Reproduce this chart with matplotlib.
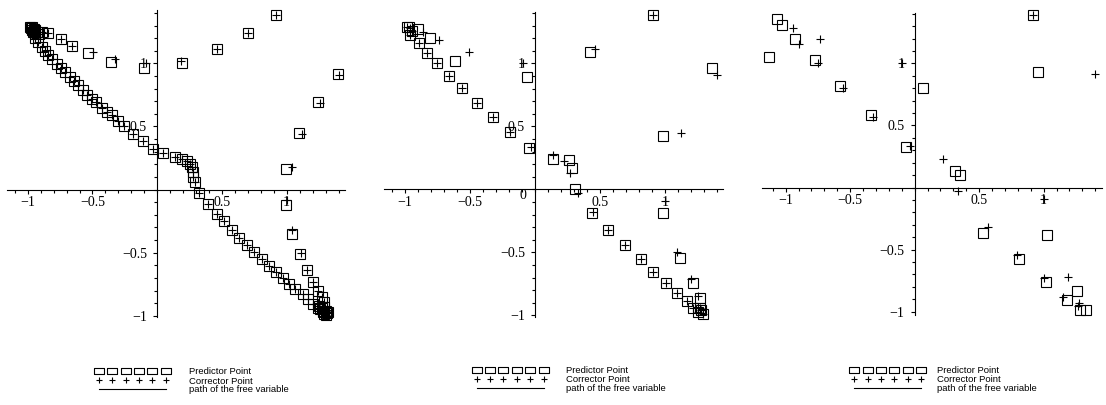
import matplotlib
matplotlib.use("Agg")
import matplotlib.pyplot as plt
from matplotlib.lines import Line2D
from matplotlib.ticker import FixedLocator, FixedFormatter, MultipleLocator

# predictor / corrector points of the three continuation runs (x, y)
p1_pred = [
    (-0.985, 1.29), (-0.975, 1.28), (-0.965, 1.29), (-0.97, 1.265), (-0.955, 1.275),
    (-0.95, 1.255), (-0.94, 1.265), (-0.96, 1.245), (-0.93, 1.25), (-0.945, 1.23), (-0.915, 1.235),
    (-0.89, 1.25), (-0.84, 1.24), (-0.746, 1.19), (-0.661, 1.14), (-0.532, 1.084),
    (-0.358, 1.013), (-0.103, 0.965), (0.193, 1.0), (0.463, 1.111), (0.703, 1.238),
    (0.916, 1.384), (1.398, 0.913), (1.243, 0.696), (1.097, 0.452), (0.994, 0.159),
    (0.994, -0.124), (1.042, -0.349), (1.102, -0.508), (1.153, -0.64), (1.2, -0.733),
    (1.243, -0.804), (1.269, -0.852), (1.29, -0.89),
    (1.25, -0.92), (1.27, -0.94), (1.29, -0.93), (1.30, -0.96), (1.28, -0.97),
    (1.31, -0.98), (1.29, -0.99), (1.32, -0.97), (1.305, -0.995), (1.26, -0.95),
    (-0.944, 1.198), (-0.919, 1.167), (-0.893, 1.132), (-0.867, 1.098), (-0.842, 1.066),
    (-0.811, 1.032), (-0.777, 0.992), (-0.746, 0.96), (-0.713, 0.929), (-0.674, 0.894),
    (-0.643, 0.86), (-0.61, 0.828), (-0.576, 0.788), (-0.545, 0.748), (-0.507, 0.717),
    (-0.473, 0.69), (-0.43, 0.648), (-0.39, 0.616), (-0.35, 0.59), (-0.30, 0.545),
    (-0.26, 0.505), (-0.19, 0.444), (-0.113, 0.386), (-0.036, 0.325), (0.046, 0.286),
    (0.137, 0.259), (0.193, 0.246), (0.227, 0.227), (0.253, 0.206), (0.266, 0.179),
    (0.273, 0.14), (0.28, 0.10), (0.291, 0.06), (0.324, -0.027), (0.394, -0.111),
    (0.459, -0.19), (0.515, -0.252), (0.574, -0.323), (0.635, -0.38), (0.695, -0.437),
    (0.746, -0.494), (0.807, -0.55), (0.862, -0.606), (0.916, -0.653), (0.968, -0.701),
    (1.02, -0.746), (1.066, -0.786), (1.123, -0.825), (1.161, -0.865), (1.2, -0.905),
    (1.243, -0.937), (1.282, -0.964),
]
p1_corr = [
    (-0.985, 1.29), (-0.975, 1.28), (-0.965, 1.29), (-0.97, 1.265), (-0.955, 1.275),
    (-0.95, 1.255), (-0.94, 1.265), (-0.96, 1.245), (-0.93, 1.25), (-0.945, 1.23), (-0.915, 1.235),
    (-0.89, 1.25), (-0.84, 1.24), (-0.746, 1.19), (-0.655, 1.14), (-0.499, 1.087),
    (-0.327, 1.032), (-0.09, 1.005), (0.183, 1.021), (0.463, 1.111), (0.703, 1.238),
    (0.916, 1.384), (1.403, 0.907), (1.256, 0.688), (1.115, 0.444), (1.037, 0.175),
    (1.004, -0.079), (1.042, -0.323), (1.109, -0.503), (1.153, -0.64), (1.2, -0.733),
    (1.243, -0.804), (1.269, -0.852), (1.29, -0.89),
    (1.25, -0.92), (1.27, -0.94), (1.29, -0.93), (1.30, -0.96), (1.28, -0.97),
    (1.31, -0.98), (1.29, -0.99), (1.32, -0.97), (1.305, -0.995), (1.26, -0.95),
    (-0.944, 1.198), (-0.919, 1.167), (-0.893, 1.132), (-0.867, 1.098), (-0.842, 1.066),
    (-0.811, 1.032), (-0.777, 0.992), (-0.746, 0.96), (-0.713, 0.929), (-0.674, 0.894),
    (-0.643, 0.86), (-0.61, 0.828), (-0.576, 0.788), (-0.545, 0.748), (-0.507, 0.717),
    (-0.473, 0.69), (-0.43, 0.648), (-0.39, 0.616), (-0.35, 0.59), (-0.30, 0.545),
    (-0.26, 0.505), (-0.19, 0.444), (-0.113, 0.386), (-0.036, 0.325), (0.046, 0.286),
    (0.137, 0.259), (0.193, 0.246), (0.227, 0.227), (0.253, 0.206), (0.266, 0.179),
    (0.273, 0.14), (0.28, 0.10), (0.291, 0.06), (0.324, -0.027), (0.394, -0.111),
    (0.459, -0.19), (0.515, -0.252), (0.574, -0.323), (0.635, -0.38), (0.695, -0.437),
    (0.746, -0.494), (0.807, -0.55), (0.862, -0.606), (0.916, -0.653), (0.968, -0.701),
    (1.02, -0.746), (1.066, -0.786), (1.123, -0.825), (1.161, -0.865), (1.2, -0.905),
    (1.243, -0.937), (1.282, -0.964),
]

p2_pred = [
    (-0.985, 1.286), (-0.964, 1.291), (-0.946, 1.259), (-0.895, 1.27), (-0.959, 1.225),
    (-0.887, 1.159), (-0.806, 1.198), (-0.826, 1.085), (-0.749, 1.0), (-0.614, 1.021),
    (-0.66, 0.902), (-0.558, 0.802), (-0.448, 0.688), (-0.325, 0.571), (-0.192, 0.452),
    (-0.043, 0.331), (-0.064, 0.889), (0.141, 0.238), (0.263, 0.233), (0.281, 0.167),
    (0.307, 0.0), (0.435, -0.19), (0.563, -0.323), (0.691, -0.442), (0.811, -0.556),
    (0.908, -0.653), (1.003, -0.741), (1.087, -0.82), (1.164, -0.886), (1.215, -0.944),
    (1.266, -0.944), (1.25, -0.97), (1.29, -0.985), (1.275, -0.96), (1.21, -0.746),
    (1.113, -0.548), (0.98, -0.19), (0.98, 0.423), (1.355, 0.96), (0.422, 1.093),
    (0.908, 1.384), (1.266, -0.865),
]
p2_corr = [
    (-0.985, 1.286), (-0.96, 1.28), (-0.946, 1.259), (-0.857, 1.251), (-0.959, 1.225),
    (-0.887, 1.159), (-0.734, 1.185), (-0.826, 1.085), (-0.749, 1.0), (-0.504, 1.087),
    (-0.66, 0.902), (-0.558, 0.802), (-0.448, 0.688), (-0.325, 0.571), (-0.19, 0.455),
    (-0.03, 0.34), (-0.09, 1.0), (0.136, 0.272), (0.225, 0.225), (0.269, 0.132),
    (0.332, -0.026), (0.447, -0.18), (0.563, -0.323), (0.691, -0.442), (0.811, -0.556),
    (0.908, -0.653), (1.003, -0.741), (1.087, -0.82), (1.164, -0.886), (1.215, -0.944),
    (1.266, -0.944), (1.25, -0.97), (1.29, -0.985), (1.275, -0.96), (1.194, -0.714),
    (1.092, -0.495), (0.997, -0.09), (1.118, 0.45), (1.394, 0.907), (0.46, 1.111),
    (0.908, 1.384), (1.253, -0.847),
]

p3_pred = [
    (-1.07, 1.354), (-1.031, 1.309), (-0.928, 1.193), (-1.127, 1.048), (-0.773, 1.027),
    (-0.579, 0.817), (-0.341, 0.584), (-0.07, 0.329), (0.067, 0.799), (0.313, 0.136),
    (0.351, 0.101), (0.532, -0.369), (0.915, 1.389), (0.959, 0.933), (1.028, -0.383),
    (0.811, -0.579), (1.018, -0.758), (1.256, -0.831), (1.178, -0.906), (1.282, -0.987),
    (1.328, -0.987),
]
p3_corr = [
    (-0.941, 1.282), (-0.894, 1.156), (-0.734, 1.193), (-0.747, 1.0), (-0.553, 0.799),
    (-0.32, 0.570), (-0.101, 1.0), (-0.036, 0.334), (0.222, 0.227), (0.333, -0.028),
    (0.571, -0.321), (0.796, -0.544), (1.005, -0.095), (1.005, -0.732), (0.915, 1.389),
    (1.398, 0.914), (1.191, -0.723), (1.147, -0.879), (1.276, -0.933), (1.264, -0.955),
]

tick_values = [-1, -0.5, 0.5, 1]
tick_labels = ["\u22121", "\u22120.5", "0.5", "1"]
legend_labels = ["Predictor Point", "Corrector Point", "path of the free variable"]

W, H = 1106, 405
plt.rcParams["font.family"] = "Liberation Serif"
plt.rcParams["font.size"] = 10

fig = plt.figure(figsize=(W / 100, H / 100), dpi=100)


def add_panel(box, xlim, ylim, pred, corr, leg_xy, textpad, zero_label=False):
    left, top, right, bottom = box
    ax = fig.add_axes([left / W, 1 - bottom / H, (right - left) / W, (bottom - top) / H])
    ax.patch.set_visible(False)
    ax.set_xlim(*xlim)
    ax.set_ylim(*ylim)
    for side in ["top", "right"]:
        ax.spines[side].set_visible(False)
    for side in ["left", "bottom"]:
        ax.spines[side].set_position(("data", 0))
        ax.spines[side].set_linewidth(0.8)
    for axis in [ax.xaxis, ax.yaxis]:
        axis.set_major_locator(FixedLocator(tick_values))
        axis.set_major_formatter(FixedFormatter(tick_labels))
        axis.set_minor_locator(MultipleLocator(0.1))
    ax.tick_params(which="both", direction="out", width=0.8, color="k")
    ax.tick_params(which="major", length=3)
    ax.tick_params(which="minor", length=2.2)
    ax.tick_params(axis="x", pad=1.5)
    ax.tick_params(axis="y", pad=4.3)
    if zero_label:
        ax.text(-0.09, 0, "0", ha="center", va="top")

    ax.plot([p[0] for p in pred], [p[1] for p in pred], ls="none", marker="s", ms=7.2,
            mfc="none", mec="k", mew=0.8, clip_on=False, zorder=3)
    ax.plot([p[0] for p in corr], [p[1] for p in corr], ls="none", marker="+", ms=5.5,
            mec="k", mew=0.8, clip_on=False, zorder=3)

    rect = [(-1, -0.62), (1, -0.62), (1, 0.62), (-1, 0.62), (-1, -0.62)]
    handles = [
        Line2D([], [], ls="none", marker=rect, ms=7.6, mfc="none", mec="k", mew=0.8),
        Line2D([], [], ls="none", marker="+", ms=4.6, mec="k", mew=0.8),
        Line2D([], [], color="k", lw=0.8),
    ]
    ax.legend(handles, legend_labels, loc="upper left",
              bbox_to_anchor=(leg_xy[0] / W, 1 - leg_xy[1] / H), bbox_transform=fig.transFigure,
              frameon=False, numpoints=6, handlelength=7.7, handletextpad=textpad,
              labelspacing=0.0, borderpad=0, borderaxespad=0,
              prop={"family": "Liberation Sans", "size": 6.8})
    return ax


add_panel((7, 10, 345, 317), (-1.16, 1.45), (-1.01, 1.423), p1_pred, p1_corr, (96, 367.5), 2.1)
add_panel((384, 11.7, 723.3, 316.7), (-1.159, 1.445), (-1.01, 1.41), p2_pred, p2_corr,
          (473.7, 366), 2.1, zero_label=True)
add_panel((761.7, 12.7, 1101.7, 315), (-1.186, 1.45), (-1.027, 1.408), p3_pred, p3_corr,
          (851.3, 366), 1.4)

fig.savefig("out.png", dpi=100)
